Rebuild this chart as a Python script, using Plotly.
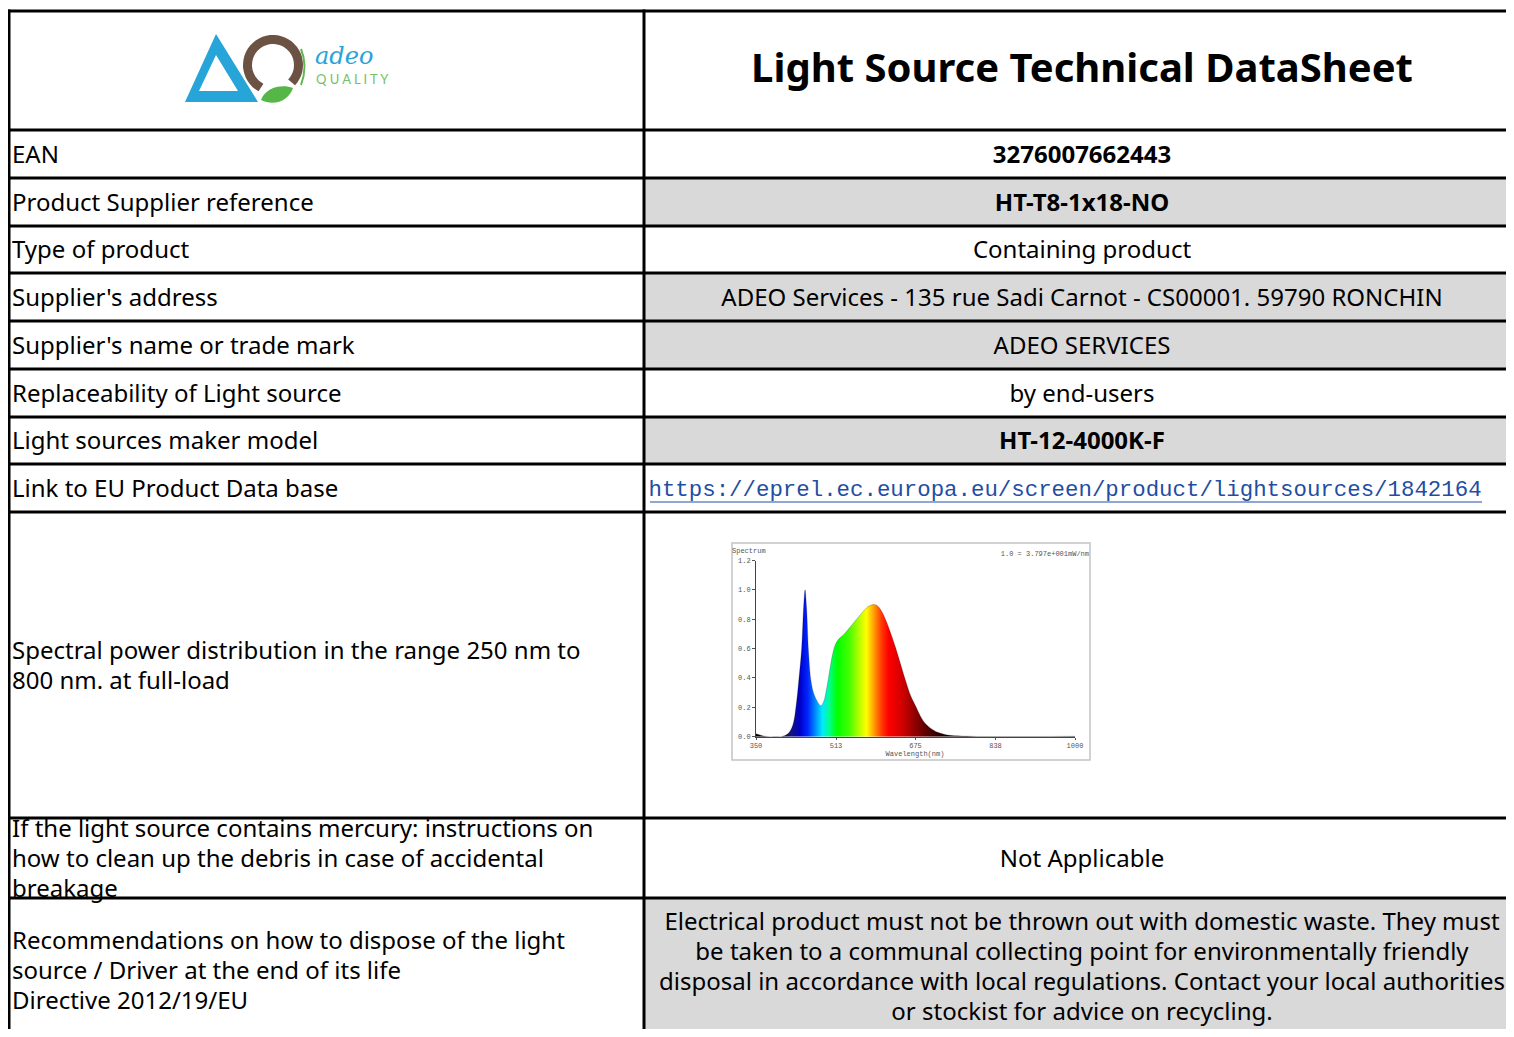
import numpy as np
import plotly.graph_objects as go

# ---------------- DATA ----------------
TITLE = "Light Source Technical DataSheet"
LABELS = [
    "EAN",
    "Product Supplier reference",
    "Type of product",
    "Supplier's address",
    "Supplier's name or trade mark",
    "Replaceability of Light source",
    "Light sources maker model",
    "Link to EU Product Data base",
    "Spectral power distribution in the range 250 nm to<br>800 nm. at full-load",
    "If the light source contains mercury: instructions on<br>how to clean up the debris in case of accidental<br>breakage",
    "Recommendations on how to dispose of the light<br>source / Driver at the end of its life<br>Directive 2012/19/EU",
]
VALUES = [
    "3276007662443",
    "HT-T8-1x18-NO",
    "Containing product",
    "ADEO Services - 135 rue Sadi Carnot - CS00001. 59790 RONCHIN",
    "ADEO SERVICES",
    "by end-users",
    "HT-12-4000K-F",
    "https://eprel.ec.europa.eu/screen/product/lightsources/1842164",
    "",
    "Not Applicable",
    "Electrical product must not be thrown out with domestic waste. They must<br>be taken to a communal collecting point for environmentally friendly<br>disposal in accordance with local regulations. Contact your local authorities<br>or stockist for advice on recycling.",
]
# spectrum (relative power vs wavelength, nm)
WAVELENGTH = [350, 355, 365, 380, 400, 415, 425, 432, 437, 443, 447, 450, 453, 457, 462,
              468, 475, 482, 488, 494, 500, 506, 512, 520, 530, 540, 550, 560, 570, 580,
              590, 596, 605, 615, 625, 635, 645, 655, 665, 675, 685, 695, 705, 720, 740,
              760, 800, 850, 900, 950, 1000]
POWER = [0.02, 0.015, 0.005, 0.0, 0.0, 0.02, 0.08, 0.22, 0.38, 0.6, 0.88, 1.0, 0.88, 0.58, 0.38,
         0.29, 0.24, 0.21, 0.24, 0.33, 0.45, 0.56, 0.63, 0.67, 0.70, 0.74, 0.78, 0.82, 0.86, 0.89,
         0.90, 0.895, 0.86, 0.79, 0.70, 0.60, 0.49, 0.38, 0.28, 0.21, 0.14, 0.09, 0.06, 0.03, 0.012,
         0.006, 0.002, 0.001, 0.001, 0.002, 0.003]
X_TICKS = [350, 513, 675, 838, 1000]
Y_TICKS = [0.0, 0.2, 0.4, 0.6, 0.8, 1.0, 1.2]
SPEC_TITLE = "Spectrum"
SPEC_NOTE = "1.0 = 3.797e+001mW/nm"
SPEC_XLABEL = "Wavelength(nm)"

# ---------------- LAYOUT CONSTANTS ----------------
W, H = 1514, 1037          # browser window
OFF = 8                    # default page (body) margin
FW, FH = W - 2 * OFF, H - 2 * OFF
ROW_EDGES = [11, 130, 178, 226, 273, 321, 369, 417, 464, 512, 818, 898, 1043]
COL_X = [9, 644]
SHADED = {1, 3, 4, 6, 10}
BOLD = {0, 1, 6}
LINK_ROW = 7
LAST_ROW = 10
LINE_H = 30
DY = 2.5                   # glyph centring nudge
FONT = "Noto Sans"


def px(x):   # page pixel -> paper fraction (x)
    return (x - OFF) / FW


def py(y):   # page pixel -> paper fraction (y)
    return (H - OFF - y) / FH


fig = go.Figure()

shapes = []
for i in SHADED:
    shapes.append(dict(type="rect", xref="x", yref="y", x0=COL_X[1], x1=W + 10,
                       y0=ROW_EDGES[i + 1], y1=ROW_EDGES[i + 2],
                       fillcolor="#d9d9d9", line=dict(width=0), layer="below"))
shapes.append(dict(type="rect", xref="x", yref="y", x0=732, x1=1090, y0=543, y1=760,
                   fillcolor="white", line=dict(color="#c4c4c4", width=1.5), layer="below"))
for y in ROW_EDGES[:-1]:
    shapes.append(dict(type="line", xref="x", yref="y", x0=7.5, x1=W + 10, y0=y, y1=y,
                       line=dict(color="black", width=3), layer="above"))
for x in COL_X:
    shapes.append(dict(type="line", xref="x", yref="y", x0=x, x1=x, y0=9.5, y1=H + 10,
                       line=dict(color="black", width=3), layer="above"))

# ---------- logo ----------
BLUE = "#27a4d8"
BROWN = "#6b5242"
GREEN = "#5cb84f"
shapes.append(dict(type="path", xref="x", yref="y",
                   path="M 216,34 L 185,102 L 258,102 Z M 216,55 L 199,91 L 238,91 Z",
                   fillcolor=BLUE, fillrule="evenodd", line=dict(width=0)))
ang = np.linspace(np.deg2rad(118), np.deg2rad(118 + 285), 40)
cx, cy, r = 273, 65, 25.5
pts = " L ".join(f"{cx + r * np.cos(a):.1f},{cy + r * np.sin(a):.1f}" for a in ang)
shapes.append(dict(type="path", xref="x", yref="y", path="M " + pts,
                   line=dict(color=BROWN, width=9)))
shapes.append(dict(type="path", xref="x", yref="y",
                   path="M 261,100 C 266,87 282,84 293,88 C 289,100 275,107 261,100 Z",
                   fillcolor="#55b748", line=dict(width=0)))
shapes.append(dict(type="path", xref="x", yref="y",
                   path="M 301,49 Q 308,66 301,85", line=dict(color=GREEN, width=2)))
fig.add_trace(go.Scatter(x=[315], y=[58], mode="text", text=["adeo"], textposition="middle right",
                         textfont=dict(family="DejaVu Serif", size=24, color=BLUE, style="italic"),
                         hoverinfo="skip", showlegend=False))
fig.add_trace(go.Scatter(x=[316], y=[81], mode="text", text=["Q U A L I T Y"], textposition="middle right",
                         textfont=dict(family="Lato", size=13, color="#74c16b"),
                         hoverinfo="skip", showlegend=False))

# ---------- title ----------
fig.add_trace(go.Scatter(x=[1082], y=[69 + DY], mode="text", text=[f"<b>{TITLE}</b>"],
                         textposition="middle center",
                         textfont=dict(family=FONT, size=40, color="black"),
                         hoverinfo="skip", showlegend=False))


def add_lines(text, x, yc, pos, size, color="black", family=FONT, bold=False, lh=LINE_H):
    lines = text.split("<br>")
    n = len(lines)
    ys = [yc + DY + (k - (n - 1) / 2) * lh for k in range(n)]
    txt = [f"<b>{t}</b>" if bold else t for t in lines]
    fig.add_trace(go.Scatter(x=[x] * n, y=ys, mode="text", text=txt, textposition=pos,
                             textfont=dict(family=family, size=size, color=color),
                             hoverinfo="skip", showlegend=False))


for i, (lab, val) in enumerate(zip(LABELS, VALUES)):
    yc = (ROW_EDGES[i + 1] + ROW_EDGES[i + 2]) / 2
    add_lines(lab, 12, yc, "middle right", 24)
    if not val:
        continue
    if i == LINK_ROW:
        add_lines(val, 648.5, yc, "middle right", 22.4, color="#1f4ea3", family="Liberation Mono")
        shapes.append(dict(type="line", xref="x", yref="y", x0=650, x1=1482, y0=yc + 14, y1=yc + 14,
                           line=dict(color="#1f4ea3", width=1.2)))
    elif i == LAST_ROW:
        add_lines(val, 1082, yc - 4, "middle center", 24)
    else:
        add_lines(val, 1082, yc, "middle center", 24, bold=(i in BOLD))

# ---------- spectrum ----------
scale = [[0.0, "#000000"], [0.077, "#14002a"], [0.108, "#141478"], [0.138, "#0000c8"],
         [0.162, "#0024ff"], [0.185, "#0088ff"], [0.208, "#00eaff"], [0.231, "#00ff88"],
         [0.254, "#00ff00"], [0.292, "#44ff00"], [0.323, "#b4ff00"], [0.346, "#ffff00"],
         [0.369, "#ffa000"], [0.392, "#ff4000"], [0.415, "#ff0000"], [0.462, "#cc0000"],
         [0.508, "#800000"], [0.554, "#400000"], [0.6, "#100000"], [1.0, "#000000"]]
fig.add_trace(go.Scatter(x=WAVELENGTH, y=POWER, xaxis="x2", yaxis="y2", mode="lines",
                         fill="tozeroy",
                         fillgradient=dict(type="horizontal", colorscale=scale, start=350, stop=1000),
                         line=dict(color="rgba(0,0,0,0.35)", width=0.6, shape="spline"),
                         hoverinfo="skip", showlegend=False))
SMALL = dict(family="Liberation Mono", size=7, color="#555555")
fig.add_trace(go.Scatter(x=[732, 1089, 915], y=[551, 554, 754], mode="text",
                         text=[SPEC_TITLE, SPEC_NOTE, SPEC_XLABEL],
                         textposition=["middle right", "middle left", "middle center"],
                         textfont=SMALL, hoverinfo="skip", showlegend=False))

fig.update_layout(
    width=FW, height=FH, margin=dict(l=0, r=0, t=0, b=0, autoexpand=False),
    paper_bgcolor="white", plot_bgcolor="rgba(0,0,0,0)",
    shapes=shapes, showlegend=False,
    xaxis=dict(range=[OFF, W - OFF], domain=[0, 1], visible=False, fixedrange=True),
    yaxis=dict(range=[H - OFF, OFF], domain=[0, 1], visible=False, fixedrange=True),
    xaxis2=dict(domain=[px(756), px(1075)], anchor="y2", range=[350, 1000],
                tickvals=X_TICKS, ticks="outside", ticklen=2, tickcolor="#555",
                showline=True, linecolor="#444", linewidth=1, showgrid=False, zeroline=False,
                tickfont=SMALL, fixedrange=True),
    yaxis2=dict(domain=[py(736.7), py(560.5)], anchor="x2", range=[0, 1.2],
                tickvals=Y_TICKS, tickformat=".1f", ticks="outside", ticklen=3, tickcolor="#555",
                showline=True, linecolor="#444", linewidth=1, showgrid=False, zeroline=False,
                tickfont=SMALL, fixedrange=True),
)

fig.write_html("out.html", config={"displayModeBar": False})
